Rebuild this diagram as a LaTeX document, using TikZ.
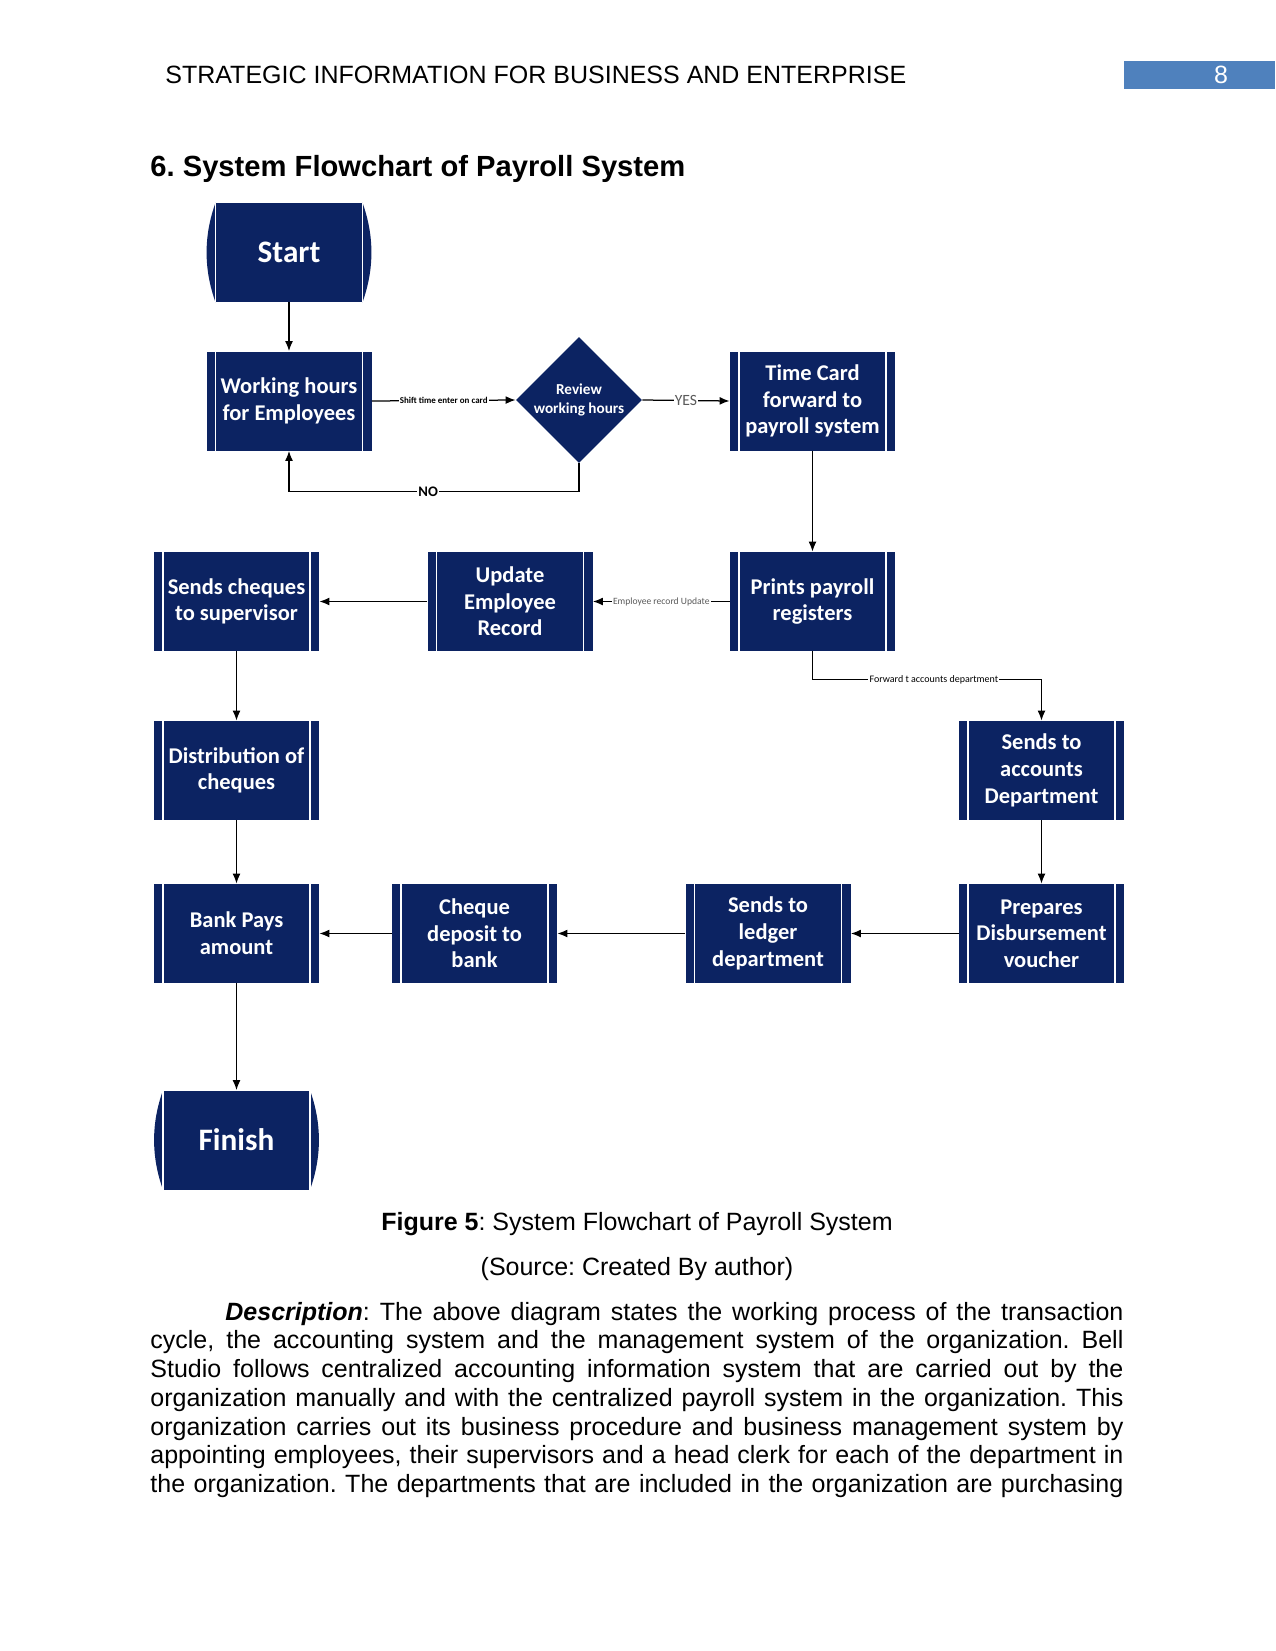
\documentclass[tikz,border=0pt]{standalone}
\usepackage{fontspec}
\setmainfont{Liberation Sans}
\newfontfamily\carlito{Carlito}
\usetikzlibrary{shapes.geometric,arrows.meta,calc}
\definecolor{navy}{RGB}{12,35,98}
\definecolor{pnblue}{RGB}{79,129,189}
\definecolor{lblgray}{RGB}{90,90,90}
\frenchspacing
\begin{document}
\begin{tikzpicture}[x=0.48pt,y=-0.48pt,
  proc/.style={rectangle, fill=navy, minimum width=79.2pt, minimum height=47.52pt,
    inner sep=0pt, text=white, align=center,
    font=\carlito\bfseries\fontsize{10.8}{12.8}\selectfont,
    path picture={
      \draw[white,line width=0.6pt] ([xshift=4.32pt]path picture bounding box.north west) -- ([xshift=4.32pt]path picture bounding box.south west);
      \draw[white,line width=0.6pt] ([xshift=-4.32pt]path picture bounding box.north east) -- ([xshift=-4.32pt]path picture bounding box.south east);}},
  term/.style={rectangle, fill=navy, minimum width=70.08pt, minimum height=47.52pt,
    inner sep=0pt, text=white, font=\carlito\bfseries\fontsize{15}{18}\selectfont},
  decision/.style={diamond, fill=navy, minimum width=60.5pt, minimum height=60.5pt, inner sep=0pt},
  arr/.style={draw=black, line width=0.6pt, -{Latex[length=4.8pt,width=3.8pt]}},
  lbl/.style={fill=white, inner sep=0.6pt, text=black},
  small/.style={font=\carlito\bfseries\fontsize{4.3}{5}\selectfont},
]
\useasboundingbox (0,0) rectangle (1275,1651);

% header
\node[anchor=base west, inner sep=0pt, font=\fontsize{12}{14}\selectfont] (hdr) at (165,84) {STRATEGIC INFORMATION FOR BUSINESS AND ENTERPRISE};
\fill[pnblue] (1124,61) rectangle (1275,89);
\node[anchor=base, inner sep=0pt, text=white, font=\fontsize{12}{14}\selectfont] (pgno) at (1221,84) {8};

% title
\node[anchor=base west, inner sep=0pt, font=\bfseries\fontsize{14}{16}\selectfont] (title) at (150,177) {6. System Flowchart of Payroll System};

% nodes
\node[term] (start) at (289,252.5) {Start};
\node[proc] (work) at (289,401) {Working hours\\for Employees};
\node[decision] (rev) at (579,400) {};
\node[text=white, align=center, font=\carlito\bfseries\fontsize{7.3}{9}\selectfont] (revtxt) at (rev.center) {Review\\working hours};
\node[proc] (tc) at (812.5,401) {Time Card\\forward to\\payroll system};
\node[proc] (cheq) at (236.5,601.5) {Sends cheques\\to supervisor};
\node[proc] (upd) at (510,601.5) {Update\\Employee\\Record};
\node[proc] (prt) at (812.5,601.5) {Prints payroll\\registers};
\node[proc] (dist) at (236.5,770.5) {Distribution of\\cheques};
\node[proc] (acc) at (1041.5,770.5) {Sends to\\accounts\\Department};
\node[proc] (bank) at (236.5,933.5) {Bank Pays\\amount};
\node[proc] (dep) at (474.5,933.5) {Cheque\\deposit to\\bank};
\node[proc] (led) at (768,933.5) {Sends to\\ledger\\department};
\node[proc] (prep) at (1041.5,933.5) {Prepares\\Disbursement\\voucher};
\node[term] (fin) at (236.5,1140) {Finish};

% terminal bulges
\foreach \n in {start,fin}{
  \fill[navy] (\n.north east) .. controls ($(\n.north east)+(12,33)$) and ($(\n.south east)+(12,-33)$) .. (\n.south east) -- cycle;
  \fill[navy] (\n.north west) .. controls ($(\n.north west)+(-12,33)$) and ($(\n.south west)+(-12,-33)$) .. (\n.south west) -- cycle;
  \draw[white,line width=0.6pt] (\n.north east) -- (\n.south east);
  \draw[white,line width=0.6pt] (\n.north west) -- (\n.south west);
}

% connectors
\draw[arr] (start.south) -- (work.north);
\draw[arr] (work.east) -- node[lbl,small]{Shift time enter on card} (rev.west);
\draw[arr] (rev.east) -- node[lbl,text=lblgray,font=\carlito\fontsize{7.5}{9}\selectfont]{YES} (tc.west);
\draw[arr] (rev.south) -- ++(0,28) -| node[pos=0.26,lbl,font=\carlito\bfseries\fontsize{7}{8}\selectfont]{NO} (work.south);
\draw[arr] (tc.south) -- (prt.north);
\draw[arr] (prt.west) -- node[lbl,text=lblgray,font=\carlito\fontsize{4.6}{5}\selectfont]{Employee record Update} (upd.east);
\draw[arr] (upd.west) -- (cheq.east);
\draw[arr] (prt.south) -- ++(0,28) -| node[pos=0.265,lbl,font=\carlito\fontsize{4.8}{5}\selectfont]{Forward t accounts department} (acc.north);
\draw[arr] (cheq.south) -- (dist.north);
\draw[arr] (dist.south) -- (bank.north);
\draw[arr] (acc.south) -- (prep.north);
\draw[arr] (prep.west) -- (led.east);
\draw[arr] (led.west) -- (dep.east);
\draw[arr] (dep.west) -- (bank.east);
\draw[arr] (bank.south) -- (fin.north);

% caption
\node[anchor=base, inner sep=0pt, font=\fontsize{12}{14}\selectfont] (cap) at (637,1230) {\textbf{Figure 5}: System Flowchart of Payroll System};
\node[anchor=base, inner sep=0pt, font=\fontsize{12}{14}\selectfont] (src) at (637,1275) {(Source: Created By author)};

% description
\node[anchor=base west, inner sep=0pt] (desc) at (150,1320) {\parbox[t]{467.04pt}{\fontsize{12}{13.8}\selectfont\frenchspacing\parfillskip=0pt
\hspace*{36pt}\textbf{\textit{Description}}: The above diagram states the working process of the transaction\linebreak
cycle, the accounting system and the management system of the organization. Bell\linebreak
Studio follows centralized accounting information system that are carried out by the\linebreak
organization manually and with the centralized payroll system in the organization. This\linebreak
organization carries out its business procedure and business management system by\linebreak
appointing employees, their supervisors and a head clerk for each of the department in\linebreak
the organization. The departments that are included in the organization are purchasing}};
\end{tikzpicture}
\end{document}
